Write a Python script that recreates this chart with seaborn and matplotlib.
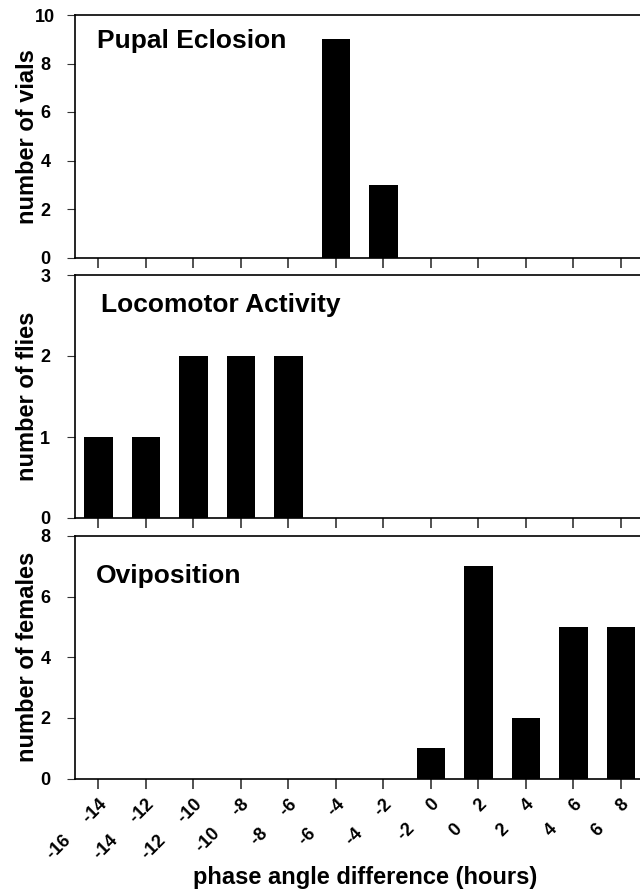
import matplotlib
matplotlib.use("Agg")
import matplotlib.pyplot as plt
import pandas as pd
import seaborn as sns

# Phase-angle bins (hours): lower and upper edge of each 2 h bin
bin_lo = [-16, -14, -12, -10, -8, -6, -4, -2, 0, 2, 4, 6]
bin_hi = [-14, -12, -10, -8, -6, -4, -2, 0, 2, 4, 6, 8]

# Counts per bin for the three rhythms
eclosion = [0, 0, 0, 0, 0, 9, 3, 0, 0, 0, 0, 0]
locomotor = [1, 1, 2, 2, 2, 0, 0, 0, 0, 0, 0, 0]
oviposition = [0, 0, 0, 0, 0, 0, 0, 1, 7, 2, 5, 5]

panel_titles = ["Pupal Eclosion", "Locomotor Activity", "Oviposition"]
y_labels = ["number of vials", "number of flies", "number of females"]
y_tops = [10, 3, 8]
y_steps = [2, 1, 2]
x_label = "phase angle difference (hours)"

sns.set_style("ticks")
plt.rcParams["font.family"] = ["Liberation Sans", "DejaVu Sans"]
plt.rcParams["font.weight"] = "bold"
for key in ["text.color", "axes.labelcolor", "xtick.color", "ytick.color"]:
    plt.rcParams[key] = "black"

bin_names = [f"{lo}" + " " * 5 + f"{hi}" for lo, hi in zip(bin_lo, bin_hi)]
df = pd.DataFrame({
    "bin": bin_names,
    "eclosion": eclosion,
    "locomotor": locomotor,
    "oviposition": oviposition,
})
columns = ["eclosion", "locomotor", "oviposition"]

W, H = 640, 893
fig = plt.figure(figsize=(W / 100, H / 100), dpi=100)

ax_left = 74.5
ax_right = 640.0
panels_px = [(15.0, 257.5), (275.0, 518.0), (536.0, 778.5)]
title_pos = [(97, 48), (101, 312), (96, 583)]

axes = []
for i, (top, bot) in enumerate(panels_px):
    ax = fig.add_axes([ax_left / W, 1 - bot / H, (ax_right - ax_left) / W, (bot - top) / H])
    sns.barplot(data=df, x="bin", y=columns[i], order=bin_names, color="black",
                width=0.6, linewidth=0, saturation=1, ax=ax)
    ax.set_xlim(-0.5, 11.4)
    ax.set_ylim(0, y_tops[i])
    ax.set_yticks(range(0, y_tops[i] + 1, y_steps[i]))
    ax.set_yticklabels([str(v) for v in range(0, y_tops[i] + 1, y_steps[i])])

    for side in ["left", "top", "bottom"]:
        ax.spines[side].set_visible(True)
        ax.spines[side].set_linewidth(1.2)
        ax.spines[side].set_color("black")
    ax.spines["right"].set_visible(False)

    ax.tick_params(axis="y", direction="out", length=6, width=0.8, color="#333333",
                   labelsize=13, pad=15, labelcolor="black")
    for lab in ax.get_yticklabels():
        lab.set_horizontalalignment("center")
        lab.set_fontweight("bold")
    ax.tick_params(axis="x", direction="out", length=7.5, width=1.1, color="#222222",
                   labelsize=13, labelcolor="black")

    ax.set_ylabel(y_labels[i], fontsize=17, fontweight="bold", va="center", color="black")
    ax.yaxis.set_label_coords((27 - ax_left) / (ax_right - ax_left), 0.5)

    tx, ty = title_pos[i]
    ax.text((tx - ax_left) / (ax_right - ax_left), 1 - (ty - top) / (bot - top),
            panel_titles[i], transform=ax.transAxes, ha="left", va="baseline",
            fontsize=19, fontweight="bold", color="black")

    if i < 2:
        ax.tick_params(axis="x", labelbottom=False)
        ax.set_xlabel("")
    axes.append(ax)

bottom_ax = axes[-1]
bottom_ax.set_xticks(range(len(bin_names)))
bottom_ax.set_xticklabels(bin_names, rotation=45, ha="right", rotation_mode="anchor",
                          fontsize=13, fontweight="bold")
bottom_ax.tick_params(axis="x", pad=5)
bottom_ax.set_xlabel(x_label, fontsize=17, fontweight="bold", va="top", color="black")
top3, bot3 = panels_px[2]
bottom_ax.xaxis.set_label_coords((365 - ax_left) / (ax_right - ax_left),
                                 -(866 - bot3) / (bot3 - top3))

fig.savefig("out.png", dpi=100, facecolor="white")
